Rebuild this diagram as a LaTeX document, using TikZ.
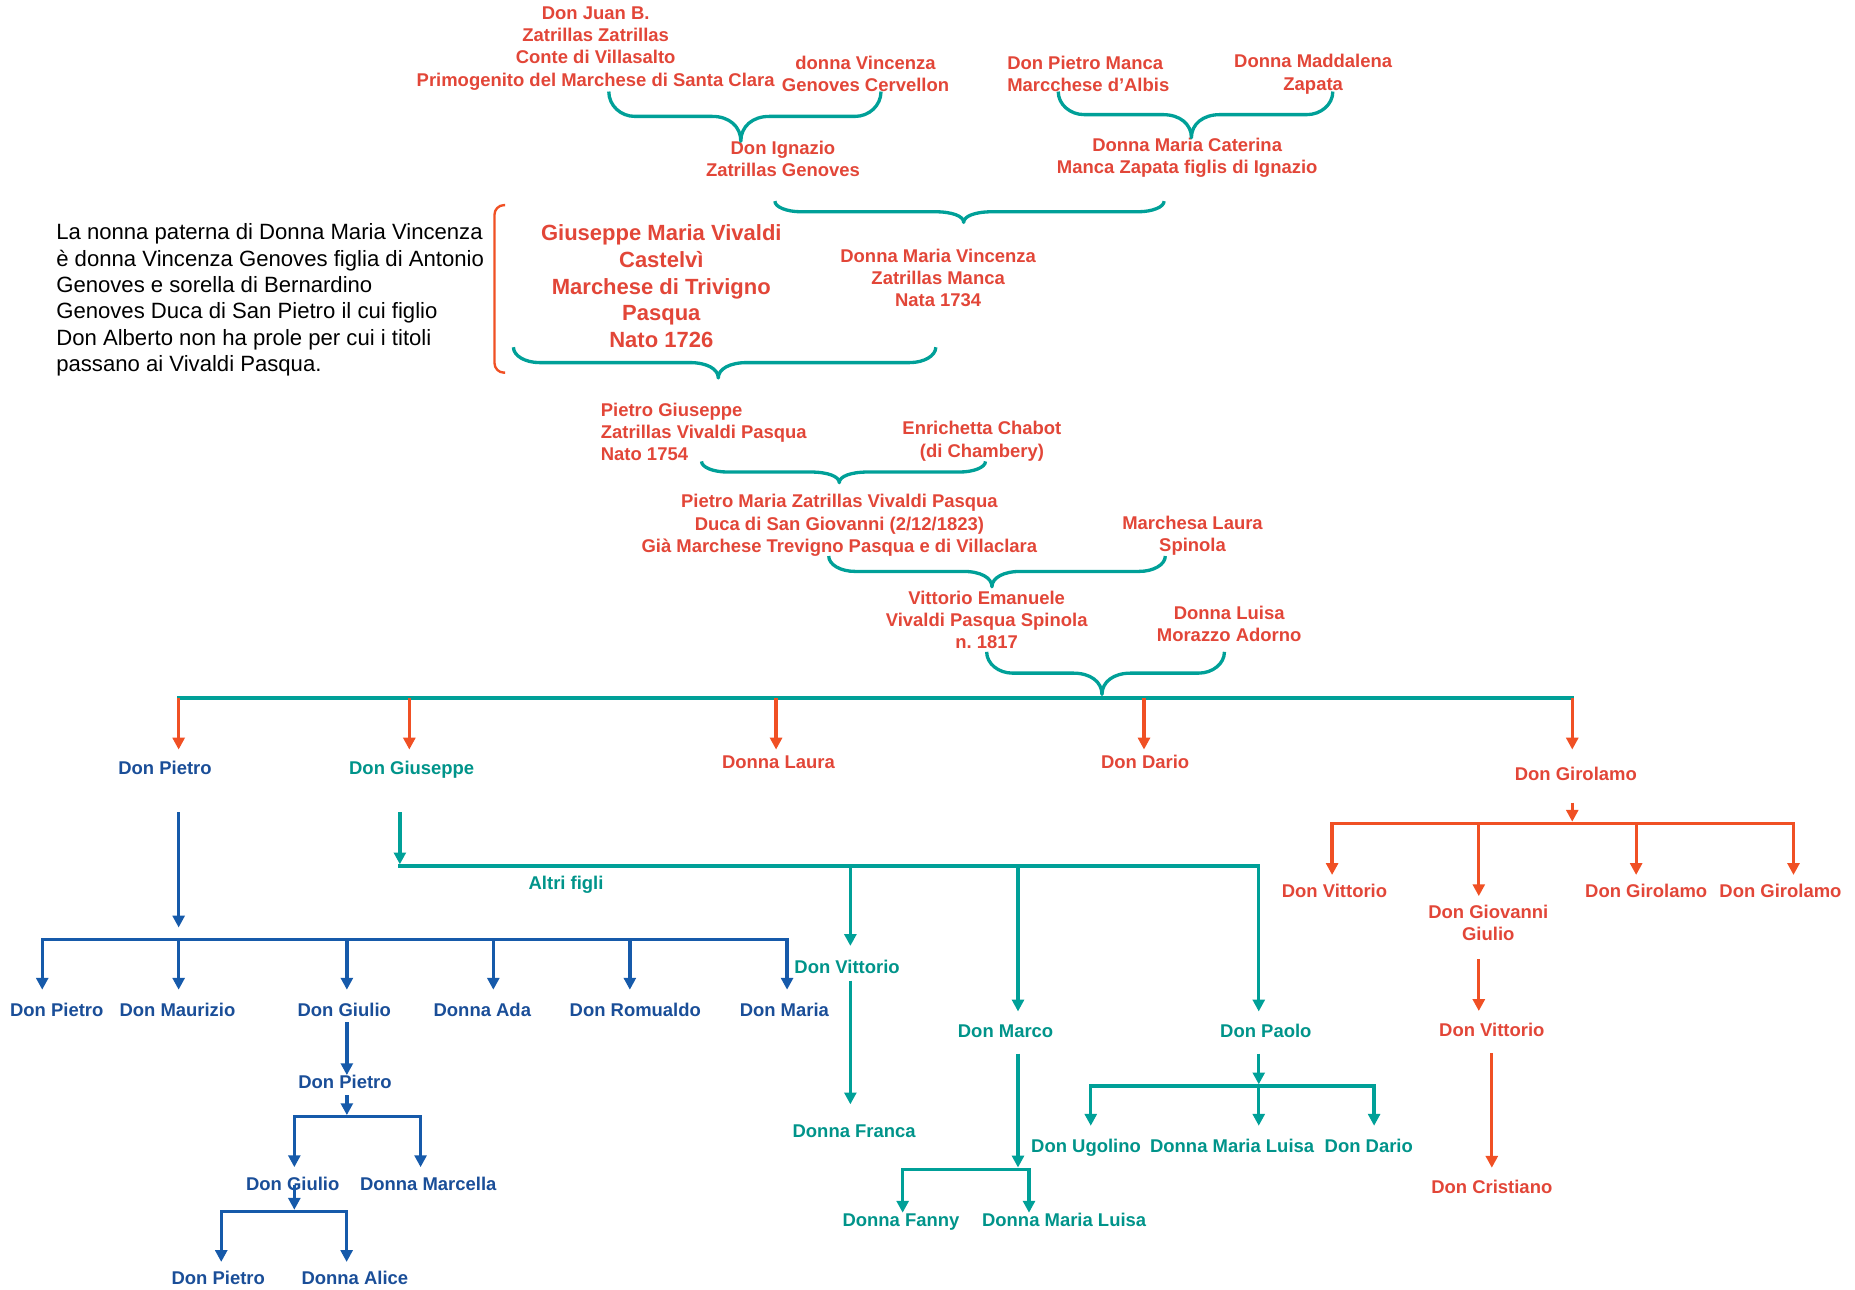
\documentclass[tikz,border=0pt]{standalone}
\usepackage{fontspec}
\setmainfont{Liberation Sans}
\usetikzlibrary{arrows.meta,calc}
\definecolor{rossoT}{RGB}{226,70,56}
\definecolor{rossoF}{RGB}{240,80,36}
\definecolor{verdeL}{RGB}{0,160,152}
\definecolor{verdeT}{RGB}{0,148,138}
\definecolor{bluL}{RGB}{22,90,170}
\definecolor{bluT}{RGB}{26,78,152}
\frenchspacing
\begin{document}
\begin{tikzpicture}[x=.5pt, y=-.5pt, >={Triangle[length=5pt,width=5pt]}, line join=round,
    nome/.style={font=\fontsize{7.8}{9.35}\selectfont\bfseries, inner sep=0pt, align=center},
    uno/.style={font=\fontsize{7.8}{9.35}\selectfont\bfseries, inner sep=0pt, text height=5.6pt, text depth=1.6pt},
    rs/.style={text=rossoT}, vs/.style={text=verdeT}, bs/.style={text=bluT},
    lr/.style={draw=rossoF, line width=1.4pt},
    lv/.style={draw=verdeL, line width=1.4pt},
    lb/.style={draw=bluL, line width=1.4pt},
    sbarra/.style={line cap=rect},
    graffa/.style={lv, to path={let \p1=(\tikztostart), \p2=(\tikztotarget), \p3=($(\p1)!.485!(\p2)$) in
        (\p1) .. controls +(0pt,-.28*#1) and +(-6pt,0pt) .. (\x1+11pt,\y1-.5*#1)
        -- (\x3-12pt,\y1-.5*#1) .. controls +(7pt,0pt) and +(0pt,.3*#1) .. (\x3,\y1-#1)
        .. controls +(0pt,.3*#1) and +(-7pt,0pt) .. (\x3+12pt,\y1-.5*#1)
        -- (\x2-11pt,\y1-.5*#1) .. controls +(6pt,0pt) and +(0pt,-.28*#1) .. (\p2)}}]
\useasboundingbox (0,0) rectangle (1568,1090.4);

% antenati
\node[nome,rs] (juan) at (503.5,41) {Don Juan B.\\Zatrillas Zatrillas\\Conte di Villasalto\\Primogenito del Marchese di Santa Clara};
\node[nome,rs] (vincenza) at (731.6,62.8) {donna Vincenza\\Genoves Cervellon};
\node[nome,rs] (ignazio) at (661.8,134) {Don Ignazio\\Zatrillas Genoves};
\node[nome,rs,align=left,anchor=west] (manca) at (851,62.8) {Don Pietro Manca\\Marcchese d’Albis};
\node[nome,rs] (maddalena) at (1110,62.8) {Donna Maddalena\\Zapata};
\node[nome,rs] (caterina) at (1003.5,133.2) {Donna Maria Caterina\\Manca Zapata figlis di Ignazio};
\node[font=\fontsize{9.35}{11.15}\selectfont, inner sep=0pt, align=left, anchor=west] (nota) at (47.2,253.5)
    {La nonna paterna di Donna Maria Vincenza\\è donna Vincenza Genoves figlia di Antonio\\Genoves e sorella di Bernardino\\Genoves Duca di San Pietro il cui figlio\\Don Alberto non ha prole per cui i titoli\\passano ai Vivaldi Pasqua.};
\node[nome,rs,font=\fontsize{9.3}{11.25}\selectfont\bfseries] (gmaria) at (559,242) {Giuseppe Maria Vivaldi\\Castelvì\\Marchese di Trivigno\\Pasqua\\Nato 1726};
\node[nome,rs] (mvincenza) at (793,234.7) {Donna Maria Vincenza\\Zatrillas Manca\\Nata 1734};
\node[nome,rs,align=left,anchor=west] (pgiuseppe) at (507.5,365) {Pietro Giuseppe\\Zatrillas Vivaldi Pasqua\\Nato 1754};
\node[nome,rs] (enrichetta) at (830,373) {Enrichetta Chabot\\(di Chambery)};
\node[nome,rs] (pmaria) at (709.5,444) {Pietro Maria Zatrillas Vivaldi Pasqua\\Duca di San Giovanni (2/12/1823)\\Già Marchese Trevigno Pasqua e di Villaclara};
\node[nome,rs] (spinola) at (1008,453) {Marchesa Laura\\Spinola};
\node[nome,rs] (vemanuele) at (834,524) {Vittorio Emanuele\\Vivaldi Pasqua Spinola\\n. 1817};
\node[nome,rs] (luisa) at (1039,527.6) {Donna Luisa\\Morazzo Adorno};

\draw[draw=rossoF, line width=1pt, rounded corners=4pt] (427,173.4) -| (418,244) |- (427,315);

\coordinate (gA1) at (514.6,77.4); \coordinate (gA2) at (744.7,77.4);
\coordinate (gB1) at (894.5,77.4); \coordinate (gB2) at (1126.6,77.4);
\coordinate (gC1) at (655,170); \coordinate (gC2) at (984,170);
\coordinate (gD1) at (434,293.5); \coordinate (gD2) at (791,293.5);
\coordinate (gE1) at (593,390); \coordinate (gE2) at (833,390);
\coordinate (gF1) at (700.5,470); \coordinate (gF2) at (985,470);
\coordinate (gG1) at (834,551); \coordinate (gG2) at (1035,551);
\draw[graffa=21pt] (gA1) to (gA2);
\draw[graffa=19.5pt] (gB1) to (gB2);
\draw[graffa=9pt] (gC1) to (gC2);
\draw[graffa=13pt] (gD1) to (gD2);
\draw[graffa=9pt] (gE1) to (gE2);
\draw[graffa=13pt] (gF1) to (gF2);
\draw[graffa=18pt] (gG1) to (gG2);

% figli di Vittorio Emanuele
\coordinate (s1) at (151,590); \coordinate (s2) at (346,590); \coordinate (s3) at (656,590);
\coordinate (s4) at (967,590); \coordinate (s5) at (1329,590);
\node[uno,bs] (dpietro) at (139.5,651) {Don Pietro};
\node[uno,vs] (dgiuseppe) at (348,651) {Don Giuseppe};
\node[uno,rs] (dlaura) at (658,646) {Donna Laura};
\node[uno,rs] (ddario) at (968,646) {Don Dario};
\node[uno,rs] (dgirolamo) at (1332,656) {Don Girolamo};
\draw[lv,sbarra] (s1) -- (s5);
\draw[lr,->,shorten >=4.9pt] (s1) -- (s1 |- dpietro.north);
\draw[lr,->,shorten >=4.9pt] (s2) -- (s2 |- dgiuseppe.north);
\draw[lr,->,shorten >=2.4pt] (s3) -- (s3 |- dlaura.north);
\draw[lr,->,shorten >=2.4pt] (s4) -- (s4 |- ddario.north);
\draw[lr,->,shorten >=7.4pt] (s5) -- (s5 |- dgirolamo.north);

% ramo di Don Pietro
\coordinate (p1) at (35.7,794); \coordinate (p2) at (151,794); \coordinate (p3) at (293.2,794);
\coordinate (p4) at (417,794); \coordinate (p5) at (532.4,794); \coordinate (p6) at (665.3,794);
\node[uno,bs] (bpietro) at (48,855) {Don Pietro};
\node[uno,bs] (maurizio) at (150,855) {Don Maurizio};
\node[uno,bs] (giulio) at (291,855) {Don Giulio};
\node[uno,bs] (ada) at (407.7,855) {Donna Ada};
\node[uno,bs] (romualdo) at (537,855) {Don Romualdo};
\node[uno,bs] (dmaria) at (663,855) {Don Maria};
\draw[lb,->,shorten <=13.9pt,shorten >=5pt] (dpietro.south -| p2) -- (p2);
\draw[lb,sbarra] (p1) -- (p6);
\draw[lb,->,shorten >=5.4pt] (p1) -- (p1 |- bpietro.north);
\draw[lb,->,shorten >=5.4pt] (p2) -- (p2 |- maurizio.north);
\draw[lb,->,shorten >=5.4pt] (p3) -- (p3 |- giulio.north);
\draw[lb,->,shorten >=5.4pt] (p4) -- (p4 |- ada.north);
\draw[lb,->,shorten >=5.4pt] (p5) -- (p5 |- romualdo.north);
\draw[lb,->,shorten >=5.4pt] (p6) -- (p6 |- dmaria.north);

\coordinate (q1) at (248.8,944); \coordinate (q2) at (355.5,944);
\node[uno,bs] (gpietro) at (291.6,916.4) {Don Pietro};
\node[uno,bs] (giulio2) at (247.4,1002) {Don Giulio};
\node[uno,bs] (marcella) at (362,1002) {Donna Marcella};
\draw[lb,->,shorten <=.7pt] (giulio.south -| p3) -- (p3 |- gpietro.north);
\draw[lb,->,shorten <=1pt,shorten >=.7pt] (gpietro.south -| p3) -- (p3 |- q1);
\draw[lb,sbarra] (q1) -- (q2);
\draw[lb,->,shorten >=3.9pt] (q1) -- (q1 |- giulio2.north);
\draw[lb,->,shorten >=3.9pt] (q2) -- (q2 |- marcella.north);

\coordinate (r1) at (187,1024); \coordinate (r2) at (293,1024);
\node[uno,bs] (rpietro) at (184.5,1081.5) {Don Pietro};
\node[uno,bs] (alice) at (300,1081.5) {Donna Alice};
\draw[lb,->,shorten >=.7pt] (q1 |- giulio2) -- (q1 |- r1);
\draw[lb,sbarra] (r1) -- (r2);
\draw[lb,->,shorten >=3.6pt] (r1) -- (r1 |- rpietro.north);
\draw[lb,->,shorten >=3.6pt] (r2) -- (r2 |- alice.north);

% ramo di Don Giuseppe
\coordinate (t1) at (338,732); \coordinate (t2) at (718.8,732);
\coordinate (t3) at (860.5,732); \coordinate (t4) at (1064,732);
\node[uno,vs] (altri) at (478.5,748) {Altri figli};
\node[uno,vs] (vittorio) at (716,819) {Don Vittorio};
\node[uno,vs] (marco) at (850,873) {Don Marco};
\node[uno,vs] (paolo) at (1070,873) {Don Paolo};
\draw[lv,->,shorten <=13.9pt,shorten >=.7pt] (dgiuseppe.south -| t1) -- (t1);
\draw[lv,sbarra] (t1) -- (t4);
\draw[lv,->,shorten >=5.9pt] (t2) -- (t2 |- vittorio.north);
\draw[lv,->,shorten >=5.2pt] (t3) -- (t3 |- marco.north);
\draw[lv,->,shorten >=5.2pt] (t4) -- (t4 |- paolo.north);

\node[uno,vs] (franca) at (722,957.5) {Donna Franca};
\draw[lv,->,shorten <=1.1pt,shorten >=8.2pt] (vittorio.south -| t2) -- (t2 |- franca.north);

\coordinate (m1) at (763,988.3); \coordinate (m2) at (869.8,988.3);
\node[uno,vs] (fanny) at (761.6,1032.7) {Donna Fanny};
\node[uno,vs] (mluisa) at (899.5,1032.7) {Donna Maria Luisa};
\draw[lv,->,shorten <=5pt,shorten >=.7pt] (marco.south -| t3) -- (t3 |- m1);
\draw[lv,sbarra] (m1) -- (m2);
\draw[lv,->] (m1) -- (m1 |- fanny.north);
\draw[lv,->] (m2) -- (m2 |- mluisa.north);

\coordinate (l1) at (922,918); \coordinate (l2) at (1064,918); \coordinate (l3) at (1161.5,918);
\node[uno,vs] (ugolino) at (918,970) {Don Ugolino};
\node[uno,vs] (mluisa2) at (1041.5,970) {Donna Maria Luisa};
\node[uno,vs] (vdario) at (1157,970) {Don Dario};
\draw[lv,->,shorten <=5pt,shorten >=.7pt] (paolo.south -| l2) -- (l2);
\draw[lv,sbarra] (l1) -- (l3);
\draw[lv,->,shorten >=5.4pt] (l1) -- (l1 |- ugolino.north);
\draw[lv,->,shorten >=5.4pt] (l2) -- (l2 |- mluisa2.north);
\draw[lv,->,shorten >=5.4pt] (l3) -- (l3 |- vdario.north);

% ramo di Don Girolamo
\coordinate (h1) at (1126,696); \coordinate (h2) at (1250,696);
\coordinate (h3) at (1383,696); \coordinate (h4) at (1516,696);
\node[uno,rs] (hvittorio) at (1128,754.6) {Don Vittorio};
\node[nome,rs] (giovanni) at (1258,780) {Don Giovanni\\Giulio};
\node[uno,rs] (girolamo2) at (1391.5,754.6) {Don Girolamo};
\node[uno,rs] (girolamo3) at (1505,754.6) {Don Girolamo};
\draw[lr,->,shorten <=7.4pt,shorten >=.7pt] (dgirolamo.south -| s5) -- (s5 |- h1);
\draw[lr,sbarra] (h1) -- (h4);
\draw[lr,->,shorten >=3.7pt] (h1) -- (h1 |- hvittorio.north);
\draw[lr,->,shorten >=3.5pt] (h2) -- (h2 |- giovanni.north);
\draw[lr,->,shorten >=3.7pt] (h3) -- (h3 |- girolamo2.north);
\draw[lr,->,shorten >=3.7pt] (h4) -- (h4 |- girolamo3.north);

\node[uno,rs] (gvittorio) at (1261,872) {Don Vittorio};
\node[uno,rs] (cristiano) at (1261,1004.5) {Don Cristiano};
\draw[lr,->,shorten <=7.7pt,shorten >=4.9pt] (giovanni.south -| h2) -- (h2 |- gvittorio.north);
\draw[lr,->,shorten <=5.4pt,shorten >=4.9pt] (gvittorio.south) -- (cristiano.north);
\end{tikzpicture}
\end{document}
